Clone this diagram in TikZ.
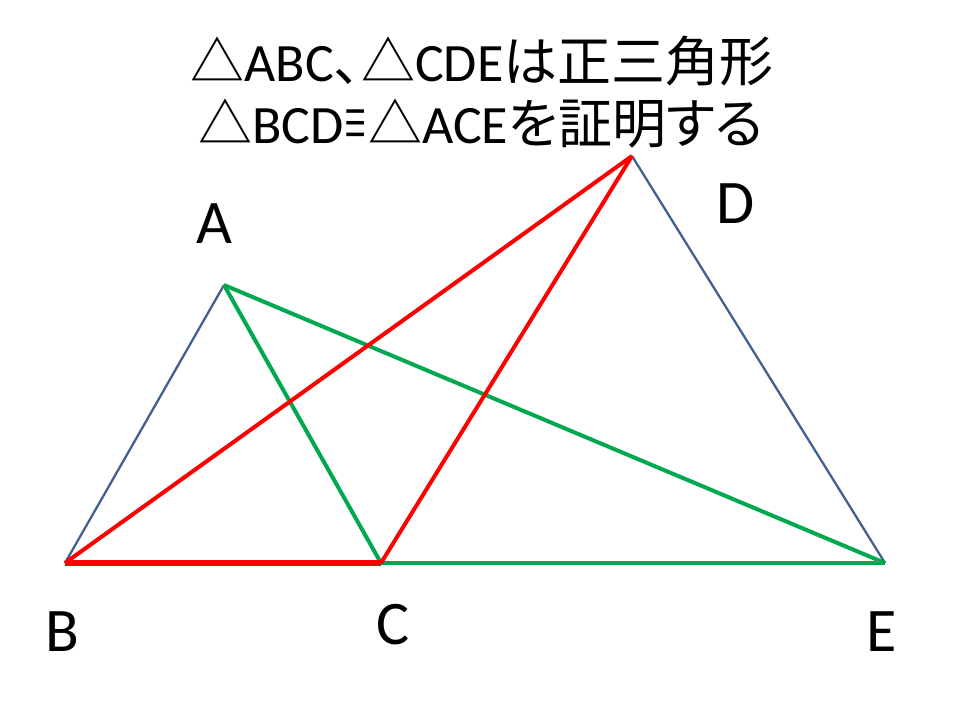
\documentclass[tikz,border=0pt]{standalone}
\usepackage{fontspec}
\setmainfont{Carlito}
\newfontfamily\jp[RawFeature=+palt]{Noto Sans CJK JP}
\definecolor{lblue}{HTML}{41628F}
\definecolor{lred}{HTML}{FF0000}
\definecolor{lgreen}{HTML}{00A850}
\tikzset{
  edgeblue/.style={draw=lblue,line width=2.3pt},
  edgered/.style={draw=lred,line width=4pt},
  edgegreen/.style={draw=lgreen,line width=4pt},
  edgebase/.style={draw=lred,line width=6pt},
  ptlabel/.style={font=\fontsize{62}{62}\selectfont,inner sep=0pt,anchor=center},
  titletext/.style={font=\fontsize{54}{54}\selectfont,inner sep=0pt,anchor=center}
}
\newcommand{\narrowequiv}{\scalebox{0.45}[1]{\jp ≡}}
\begin{document}
\begin{tikzpicture}[x=1pt,y=-1pt]
\useasboundingbox (0,0) rectangle (960,720);
\fill[white] (0,0) rectangle (960,720);
\coordinate (A) at (224,285);
\coordinate (B) at (65,563);
\coordinate (C) at (381,563);
\coordinate (D) at (632,156);
\coordinate (E) at (885,563);
\node[titletext] (t1) at (482,61) {{\jp △}ABC{\jp 、△}CDE{\jp は正三角形}};
\node[titletext] (t2) at (481,124) {{\jp △}BCD\narrowequiv{\jp △}ACE{\jp を証明する}};
\path[edgeblue] (A) -- (B);
\path[edgeblue] (D) -- (E);
\path[edgegreen] (A) -- (C);
\path[edgegreen] (A) -- (E);
\path[edgegreen] (C) -- (E);
\path[edgered] (B) -- (D);
\path[edgered] (C) -- (D);
\path[edgebase] (B) -- (C);
\node[ptlabel] (lA) at (214,224) {A};
\node[ptlabel] (lD) at (736,204) {D};
\node[ptlabel] (lB) at (62,632) {B};
\node[ptlabel] (lC) at (393,625) {C};
\node[ptlabel] (lE) at (882,632) {E};
\end{tikzpicture}
\end{document}
